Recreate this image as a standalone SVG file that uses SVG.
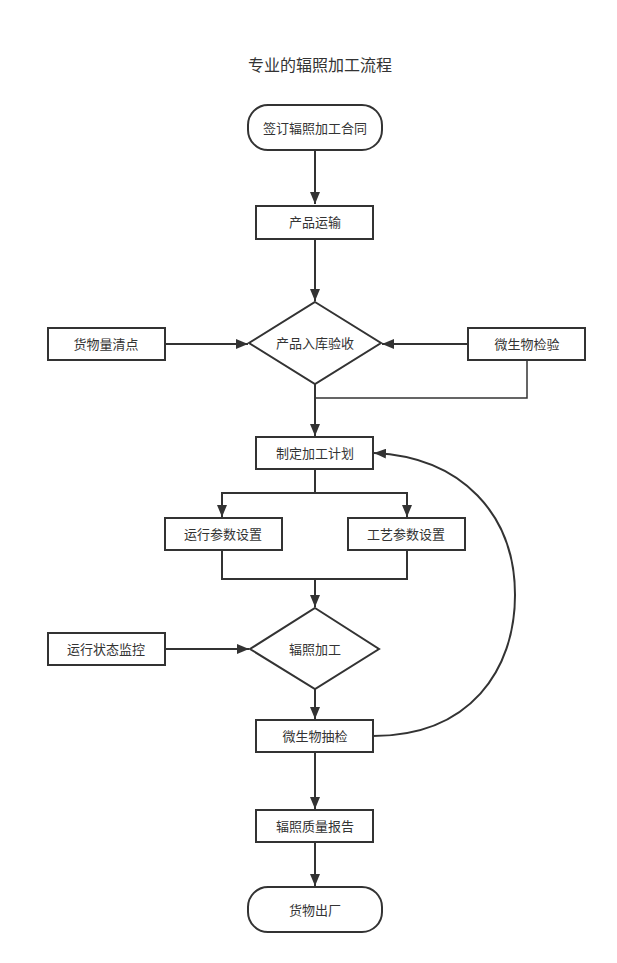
<svg xmlns="http://www.w3.org/2000/svg" width="617" height="963" viewBox="0 0 617 963">
<style>
.n{fill:#fff;stroke:#333;stroke-width:2}
.t{font-family:"Liberation Sans","Noto Sans CJK SC",sans-serif;font-size:13px;fill:#333;text-anchor:middle;dominant-baseline:central}
.c{fill:none;stroke:#333;stroke-width:2}
.ca{fill:none;stroke:#333;stroke-width:2;marker-end:url(#ah)}
</style>
<defs>
<marker id="ah" viewBox="0 0 12 10" refX="12" refY="5" markerWidth="6" markerHeight="5" orient="auto" markerUnits="strokeWidth">
<path d="M0,0 L12,5 L0,10 z" fill="#333"/>
</marker>
</defs>
<rect width="617" height="963" fill="#fff"/>
<text x="320" y="65" font-family="Liberation Sans,'Noto Sans CJK SC',sans-serif" font-size="16" fill="#333" text-anchor="middle" dominant-baseline="central">专业的辐照加工流程</text>
<g id="connectors">
<path class="ca" d="M315,150 V204"/>
<path class="ca" d="M315,239 V301"/>
<path class="ca" d="M165,344 H248"/>
<path class="ca" d="M468,344 H382"/>
<path class="c" style="stroke-width:1.5" d="M527,360 V398 H315"/>
<path class="ca" d="M315,384 V436"/>
<path class="c" d="M315,469 V493"/>
<path class="ca" d="M315,493 H222 V517"/>
<path class="ca" d="M315,493 H407 V517"/>
<path class="c" d="M222,550 V579 H407 V550"/>
<path class="ca" d="M315,579 V607"/>
<path class="ca" d="M165,649 H249"/>
<path class="ca" d="M315,689 V719"/>
<path class="ca" d="M373,736 C470,736 515,670 515,595 C515,515 462,457 374,453"/>
<path class="ca" d="M315,752 V809"/>
<path class="ca" d="M315,842 V886"/>
</g>
<g id="start"><rect class="n" x="248" y="105" width="134" height="45" rx="20" ry="20"/><text class="t" x="315" y="128">签订辐照加工合同</text></g>
<g id="transport"><rect class="n" x="256" y="206" width="117" height="33"/><text class="t" x="315" y="222">产品运输</text></g>
<g id="accept"><polygon class="n" points="315,302 381,343 315,384 249,343"/><text class="t" x="315" y="343">产品入库验收</text></g>
<g id="count"><rect class="n" x="48" y="328" width="117" height="32"/><text class="t" x="106" y="344">货物量清点</text></g>
<g id="microtest"><rect class="n" x="468" y="328" width="117" height="32"/><text class="t" x="527" y="344">微生物检验</text></g>
<g id="plan"><rect class="n" x="256" y="437" width="117" height="32"/><text class="t" x="315" y="453">制定加工计划</text></g>
<g id="runparam"><rect class="n" x="165" y="518" width="117" height="32"/><text class="t" x="223" y="534">运行参数设置</text></g>
<g id="procparam"><rect class="n" x="348" y="518" width="117" height="32"/><text class="t" x="406" y="534">工艺参数设置</text></g>
<g id="irradiate"><polygon class="n" points="315,608 379,649 315,689 250,649"/><text class="t" x="315" y="649">辐照加工</text></g>
<g id="monitor"><rect class="n" x="48" y="633" width="117" height="32"/><text class="t" x="106" y="649">运行状态监控</text></g>
<g id="sample"><rect class="n" x="256" y="720" width="117" height="32"/><text class="t" x="315" y="736">微生物抽检</text></g>
<g id="report"><rect class="n" x="256" y="810" width="117" height="32"/><text class="t" x="315" y="826">辐照质量报告</text></g>
<g id="end"><rect class="n" x="248" y="887" width="134" height="45" rx="20" ry="20"/><text class="t" x="315" y="910">货物出厂</text></g>
</svg>
